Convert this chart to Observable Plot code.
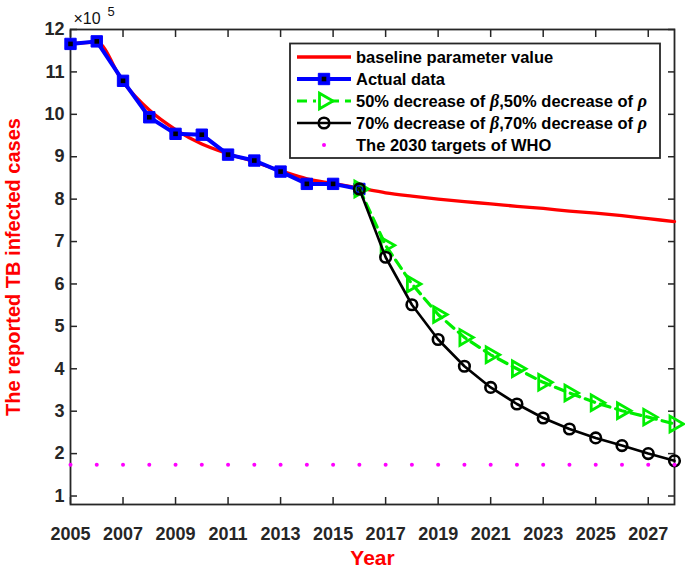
<!DOCTYPE html>
<html><head><meta charset="utf-8">
<script src="https://cdn.jsdelivr.net/npm/d3@7"></script>
<script src="https://cdn.jsdelivr.net/npm/@observablehq/plot@0.6"></script>
<style>body{margin:0;background:#fff} svg{display:block}</style>
</head><body><div id="chart"></div>
<script>
// ---- data (values ×10^5) ----
const actualYears = [2005,2006,2007,2008,2009,2010,2011,2012,2013,2014,2015,2016];
const actualCases = [11.66,11.72,10.79,9.93,9.54,9.52,9.05,8.91,8.65,8.36,8.36,8.24];
const baselineYears = [2005,2006,2007,2008,2009,2010,2011,2012,2013,2014,2015,2016,2017,2018,2019,2020,2021,2022,2023,2024,2025,2026,2027,2028];
const baselineCases = [11.66,11.70,10.76,10.10,9.64,9.30,9.07,8.88,8.67,8.48,8.37,8.26,8.15,8.07,8.00,7.94,7.89,7.83,7.78,7.72,7.67,7.61,7.54,7.47];
const projYears = [2016,2017,2018,2019,2020,2021,2022,2023,2024,2025,2026,2027,2028];
const decrease50 = [8.24,6.91,6.00,5.28,4.74,4.33,4.00,3.68,3.43,3.20,3.01,2.86,2.70];
const decrease70 = [8.24,6.63,5.51,4.69,4.06,3.56,3.17,2.84,2.58,2.37,2.19,2.00,1.83];
const whoYears = baselineYears;
const whoTarget = 1.74;
const xTicks = [2005,2007,2009,2011,2013,2015,2017,2019,2021,2023,2025,2027];
const yTicks = [1,2,3,4,5,6,7,8,9,10,11,12];
const legendLabels = ["baseline parameter value","Actual data","50% decrease of β,50% decrease of ρ","70% decrease of β,70% decrease of ρ","The 2030 targets of WHO"];

const RED = "#ff0000", BLUE = "#0000ff", GREEN = "#00ee00", BLACK = "#000000", MAGENTA = "#ff00ff", AX = "#262626";
const FONT = "Liberation Sans, Arial, Helvetica, sans-serif";

const actual = actualYears.map((x,i)=>({x, y: actualCases[i]}));
const baseline = baselineYears.map((x,i)=>({x, y: baselineCases[i]}));
const d50 = projYears.map((x,i)=>({x, y: decrease50[i]}));
const d70 = projYears.map((x,i)=>({x, y: decrease70[i]}));
const who = whoYears.map(x=>({x, y: whoTarget}));

const axisCommon = {color: AX, strokeWidth: 1.5, fontSize: 18, fontWeight: "bold"};

const plot = Plot.plot({
  width: 685, height: 573,
  marginTop: 29, marginBottom: 69, marginLeft: 70, marginRight: 11,
  style: {fontFamily: FONT, background: "#fff"},
  x: {domain: [2005, 2028]},
  y: {domain: [0.8, 12]},
  marks: [
    Plot.frame({stroke: AX, strokeWidth: 1.8}),
    Plot.axisX(xTicks, {...axisCommon, anchor: "bottom", tickSize: -7, tickPadding: 30, tickFormat: d => String(d), label: null}),
    Plot.axisX(xTicks, {...axisCommon, anchor: "top", tickSize: -7, tickFormat: () => "", label: null}),
    Plot.axisY(yTicks, {...axisCommon, anchor: "left", tickSize: -7, tickPadding: 13, tickFormat: d => String(d), label: null}),
    Plot.axisY(yTicks, {...axisCommon, anchor: "right", tickSize: -7, tickFormat: () => "", label: null}),
    Plot.text(["The reported TB infected cases"], {frameAnchor: "left", dx: -57, rotate: -90, textAnchor: "middle", lineAnchor: "middle", fontSize: 20, fontWeight: "bold", fill: RED, fontFamily: FONT}),
    Plot.text(["Year"], {frameAnchor: "bottom", dy: 54, textAnchor: "middle", lineAnchor: "middle", fontSize: 21, fontWeight: "bold", fill: RED, fontFamily: FONT}),
    Plot.text(["×10"], {frameAnchor: "top-left", dx: 3, dy: -11, textAnchor: "start", lineAnchor: "middle", fontSize: 16, fill: "#111", fontFamily: FONT}),
    Plot.text(["5"], {frameAnchor: "top-left", dx: 37, dy: -18, textAnchor: "start", lineAnchor: "middle", fontSize: 13, fill: "#111", fontFamily: FONT}),
    // baseline model
    Plot.line(baseline, {x: "x", y: "y", stroke: RED, strokeWidth: 3.3, curve: "monotone-x"}),
    // actual data
    Plot.line(actual, {x: "x", y: "y", stroke: BLUE, strokeWidth: 4}),
    Plot.dot(actual, {x: "x", y: "y", symbol: "square", r: 6.4, fill: BLUE, stroke: BLUE, strokeWidth: 1}),
    Plot.dot(actual, {x: "x", y: "y", symbol: "square", r: 2.6, fill: BLACK}),
    // 50% decrease
    Plot.line(d50, {x: "x", y: "y", stroke: GREEN, strokeWidth: 3.2, strokeDasharray: "10,6"}),
    Plot.dot(d50, {x: "x", y: "y", symbol: "triangle", rotate: 90, r: 5.8, fill: "none", stroke: GREEN, strokeWidth: 2.8}),
    // 70% decrease
    Plot.line(d70, {x: "x", y: "y", stroke: BLACK, strokeWidth: 2.6}),
    Plot.dot(d70, {x: "x", y: "y", r: 5.3, fill: "none", stroke: BLACK, strokeWidth: 2.6}),
    // WHO target
    Plot.dot(who, {x: "x", y: "y", r: 2, fill: MAGENTA})
  ]
});
document.getElementById("chart").appendChild(plot);

// ---- legend ----
const svg = d3.select(plot);
const lg = svg.append("g").attr("font-family", FONT).attr("text-anchor", "start");
lg.append("rect").attr("x", 290).attr("y", 43.5).attr("width", 370).attr("height", 114.5)
  .attr("fill", "#fff").attr("stroke", AX).attr("stroke-width", 1.8);
const rowY = i => 57 + 22 * i;
const lx1 = 297, lx2 = 351, mx = 324, tx = 356;
const sym = (type, r) => d3.symbol(type, r * r * Math.PI)();
// row 0: red line
lg.append("line").attr("x1", lx1).attr("x2", lx2).attr("y1", rowY(0)).attr("y2", rowY(0)).attr("stroke", RED).attr("stroke-width", 3.3);
// row 1: blue
lg.append("line").attr("x1", lx1).attr("x2", lx2).attr("y1", rowY(1)).attr("y2", rowY(1)).attr("stroke", BLUE).attr("stroke-width", 4);
lg.append("path").attr("d", sym(d3.symbolSquare, 6.4)).attr("transform", `translate(${mx},${rowY(1)})`).attr("fill", BLUE).attr("stroke", BLUE);
lg.append("path").attr("d", sym(d3.symbolSquare, 2.6)).attr("transform", `translate(${mx},${rowY(1)})`).attr("fill", BLACK);
// row 2: green dashed
lg.append("line").attr("x1", lx1).attr("x2", lx2).attr("y1", rowY(2)).attr("y2", rowY(2)).attr("stroke", GREEN).attr("stroke-width", 3.2).attr("stroke-dasharray", "10,6");
lg.append("rect").attr("x", mx - 8).attr("y", rowY(2) - 8).attr("width", 16).attr("height", 16).attr("fill", "#fff");
lg.append("path").attr("d", sym(d3.symbolTriangle, 5.8)).attr("transform", `translate(${mx},${rowY(2)}) rotate(90)`).attr("fill", "none").attr("stroke", GREEN).attr("stroke-width", 2.8);
// row 3: black
lg.append("line").attr("x1", lx1).attr("x2", lx2).attr("y1", rowY(3)).attr("y2", rowY(3)).attr("stroke", BLACK).attr("stroke-width", 2.6);
lg.append("circle").attr("cx", mx).attr("cy", rowY(3)).attr("r", 5.3).attr("fill", "none").attr("stroke", BLACK).attr("stroke-width", 2.6);
// row 4: magenta dot
lg.append("circle").attr("cx", mx).attr("cy", rowY(4)).attr("r", 2).attr("fill", MAGENTA);

legendLabels.forEach((label, i) => {
  const t = lg.append("text").attr("x", tx).attr("y", rowY(i)).attr("dy", "0.35em").attr("text-anchor", "start")
    .attr("font-size", 16.5).attr("font-weight", "bold").attr("fill", "#000");
  const parts = label.split(/([βρ])/);
  parts.forEach(p => {
    if (!p) return;
    const s = t.append("tspan").text(p);
    if (p === "β" || p === "ρ") s.attr("font-family", "Liberation Serif, DejaVu Serif, serif").attr("font-style", "italic").attr("font-size", 18);
  });
});
</script>
</body></html>
